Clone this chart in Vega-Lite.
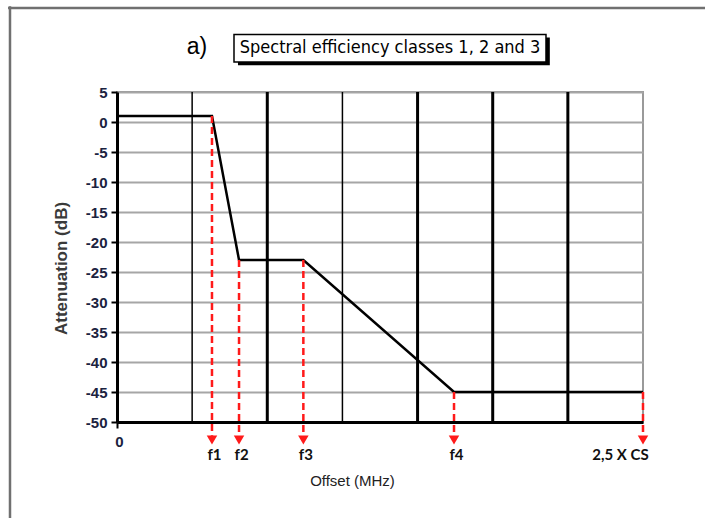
{
  "$schema": "https://vega.github.io/schema/vega-lite/v6.json",
  "autosize": "none",
  "width": 526,
  "height": 330,
  "padding": {"left": 117, "top": 92, "right": 62, "bottom": 96},
  "background": "white",
  "config": {
    "view": {"stroke": "#9a9a9a", "strokeWidth": 2},
    "font": "Liberation Sans",
    "axisY": {
      "titleFont": "Liberation Sans",
      "titleFontSize": 17,
      "titleFontWeight": "bold",
      "titleColor": "#3a3a3a",
      "titleX": -56,
      "titleY": 176,
      "titleAngle": -90,
      "titleBaseline": "middle",
      "titleAlign": "center",
      "tickCount": 12,
      "labelExpr": "'' + datum.value",
      "labelFont": "Liberation Sans",
      "labelFontSize": 15,
      "labelFontWeight": "bold",
      "labelColor": "#1b2340",
      "labelPadding": 4,
      "labelFlush": false,
      "labelOverlap": false,
      "grid": true,
      "gridColor": "#a6a6a6",
      "gridWidth": 2,
      "domainColor": "black",
      "domainWidth": 3,
      "tickColor": "black",
      "tickWidth": 2,
      "tickSize": 6
    }
  },
  "datasets": {
    "curve": [
      {"offset": 0, "att": 1},
      {"offset": 1.264, "att": 1},
      {"offset": 1.624, "att": -23},
      {"offset": 2.48, "att": -23},
      {"offset": 4.485, "att": -45},
      {"offset": 7, "att": -45}
    ],
    "arrows": [
      {"offset": 1.264, "att": 1},
      {"offset": 1.624, "att": -23},
      {"offset": 2.48, "att": -23},
      {"offset": 4.485, "att": -45},
      {"offset": 7, "att": -45}
    ],
    "vgrid": [
      {"offset": 1, "kind": "minor"},
      {"offset": 2, "kind": "major"},
      {"offset": 3, "kind": "minor"},
      {"offset": 4, "kind": "major"},
      {"offset": 5, "kind": "major"},
      {"offset": 6, "kind": "major"}
    ],
    "one": [{}]
  },
  "layer": [
    {
      "data": {"name": "vgrid"},
      "mark": {"type": "rule", "color": "black"},
      "encoding": {
        "x": {
          "field": "offset",
          "type": "quantitative",
          "scale": {"domain": [0, 7], "nice": false, "zero": false},
          "axis": {
            "title": "Offset (MHz)",
            "titleFont": "Liberation Sans",
            "titleFontSize": 15,
            "titleFontWeight": "normal",
            "titleColor": "#222222",
            "titleX": 235,
            "titleY": 58,
            "titleBaseline": "middle",
            "titleAlign": "center",
            "values": [0, 1.264, 1.624, 2.48, 4.485, 7],
            "labelExpr": "datum.value == 0 ? '0' : datum.value < 1.3 ? 'f1' : datum.value < 1.7 ? 'f2' : datum.value < 3 ? 'f3' : datum.value < 5 ? 'f4' : '2,5  X CS'",
            "labelOverlap": false,
            "labelFlush": false,
            "labelBound": false,
            "grid": false,
            "domainColor": "black",
            "domainWidth": 3,
            "tickSize": 6,
            "tickWidth": 2,
            "tickColor": {"condition": {"test": "datum.value == 0", "value": "black"}, "value": "transparent"},
            "labelFont": {"condition": {"test": "datum.value == 0", "value": "Liberation Sans"}, "value": "Lato"},
            "labelFontSize": {"condition": {"test": "datum.value == 0", "value": 15}, "value": 15},
            "labelFontWeight": "bold",
            "labelColor": {"condition": {"test": "datum.value == 0", "value": "#1b2340"}, "value": "#111111"},
            "labelPadding": {"condition": {"test": "datum.value == 0", "value": 6}, "value": 19},
            "labelOffset": {"condition": {"test": "datum.value == 7", "value": -23}, "value": 2},
            "labelBaseline": "top"
          }
        },
        "strokeWidth": {
          "field": "kind",
          "type": "nominal",
          "scale": {"domain": ["minor", "major"], "range": [1.5, 3]},
          "legend": null
        }
      }
    },
    {
      "data": {"name": "curve"},
      "mark": {"type": "line", "color": "black", "strokeWidth": 2.5},
      "encoding": {
        "x": {"field": "offset", "type": "quantitative"},
        "y": {
          "field": "att",
          "type": "quantitative",
          "scale": {"domain": [-50, 5], "nice": false, "zero": false},
          "axis": {
            "title": "Attenuation (dB)",
            "values": [5, 0, -5, -10, -15, -20, -25, -30, -35, -40, -45, -50],
            "labelFontSize": 15,
            "titleFontSize": 17
          }
        }
      }
    },
    {
      "data": {"name": "arrows"},
      "mark": {"type": "rule", "color": "#ff1a1a", "strokeWidth": 2.5, "strokeDash": [7, 4]},
      "encoding": {
        "x": {"field": "offset", "type": "quantitative"},
        "y": {"field": "att", "type": "quantitative"},
        "y2": {"datum": -52.3}
      }
    },
    {
      "data": {"name": "arrows"},
      "mark": {"type": "point", "shape": "triangle-down", "filled": true, "color": "#ff1a1a", "opacity": 1, "size": 110},
      "encoding": {
        "x": {"field": "offset", "type": "quantitative"},
        "y": {"datum": -53.0}
      }
    },
    {
      "data": {"name": "one"},
      "mark": {"type": "rule", "color": "#707070", "strokeWidth": 2.5},
      "encoding": {
        "x": {"datum": -1.424},
        "y": {"datum": 19.3},
        "y2": {"datum": -66.5}
      }
    },
    {
      "data": {"name": "one"},
      "mark": {"type": "rule", "color": "#707070", "strokeWidth": 2.5},
      "encoding": {
        "x": {"datum": -1.45},
        "x2": {"datum": 7.9},
        "y": {"datum": 19.0}
      }
    },
    {
      "data": {"name": "one"},
      "mark": {"type": "rect", "color": "black"},
      "encoding": {
        "x": {"datum": 1.61},
        "x2": {"datum": 5.76},
        "y": {"datum": 14.1},
        "y2": {"datum": 9.45}
      }
    },
    {
      "data": {"name": "one"},
      "mark": {"type": "rect", "fill": "white", "stroke": "black", "strokeWidth": 1.5},
      "encoding": {
        "x": {"datum": 1.557},
        "x2": {"datum": 5.709},
        "y": {"datum": 14.6},
        "y2": {"datum": 10.0}
      }
    },
    {
      "data": {"name": "one"},
      "mark": {"type": "text", "text": "Spectral efficiency classes 1, 2 and 3", "font": "DejaVu Sans Condensed, Liberation Sans", "fontSize": 18, "fontWeight": "normal", "color": "black", "align": "center", "baseline": "middle"},
      "encoding": {
        "x": {"datum": 3.633},
        "y": {"datum": 12.3}
      }
    },
    {
      "data": {"name": "one"},
      "mark": {"type": "text", "text": "a)", "font": "Liberation Sans", "fontSize": 23, "color": "black", "align": "center", "baseline": "middle"},
      "encoding": {
        "x": {"datum": 1.065},
        "y": {"datum": 12.5}
      }
    }
  ]
}
